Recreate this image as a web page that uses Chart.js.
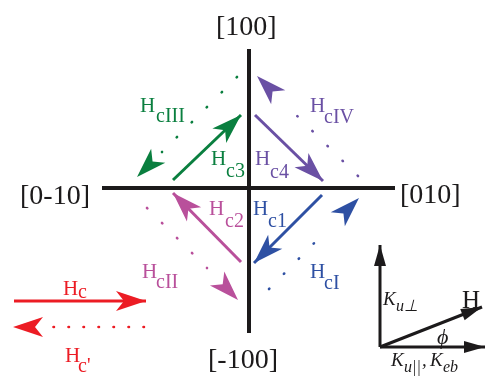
<!DOCTYPE html>
<html>
<head>
<meta charset="utf-8">
<script src="https://cdn.jsdelivr.net/npm/chart.js@4/dist/chart.umd.min.js"></script>
<style>
  html, body { margin: 0; padding: 0; background: #fff; }
  #wrap { width: 487px; height: 386px; position: relative; }
</style>
</head>
<body>
<div id="wrap"><canvas id="c"></canvas></div>
<script>
// Diagram units: origin at the crossing of the crystal axes, y pointing up.

// crystal axes (start, end)
const axisFrom = [[-147, 0], [0, 139]];
const axisTo   = [[146, 0],  [0, -145]];
const axisNames = ['[100]', '[-100]', '[0-10]', '[010]'];

// switching fields, solid arrows (tail, tip)
const solidNames = ['c3', 'c4', 'c2', 'c1', 'c'];
const solidFrom  = [[-76, 8],  [6, 73],  [-8, -74], [73, -7],  [-235, -113]];
const solidTo    = [[-8, 73],  [74, 7],  [-76, -5], [5, -75],  [-103, -113]];

// reverse fields, dotted arrows (first dot, last dot, tip)
const dottedNames = ['cIII', 'cIV', 'cII', 'cI', "c'"];
const dottedFrom  = [[-12, 111], [109, 12], [-102, -20], [20, -101], [-105, -139]];
const dottedLast  = [[-87, 36],  [34, 86],  [-42, -80],  [79, -41],  [-209, -139]];
const dottedTip   = [[-112, 11], [8, 112],  [-11, -112], [110, -10], [-236, -139]];

// anisotropy inset: common origin and the three directions
const insetOrigin = [131, -159];
const insetTips   = [[131, -57], [236, -159], [233, -119]];

// colours, one per field branch
const branchColors = ['#0a7f3f', '#6a50a4', '#b9509b', '#2e50a3', '#ec1c24'];
const ink = '#1c1a1b';

const SERIF = '"Liberation Serif", "Times New Roman", serif';
const fAxis = '28px ' + SERIF;
const fH = '21px ' + SERIF;
const fSub = '20px ' + SERIF;
const fK = 'italic 19px ' + SERIF;
const fKs = 'italic 16px ' + SERIF;

// text placements: [text, x, baseline y, font, colour]
const texts = [
  [axisNames[0], -33, 153, fAxis, ink],
  [axisNames[1], -41, -180, fAxis, ink],
  [axisNames[2], -229, -16, fAxis, ink],
  [axisNames[3], 151, -15, fAxis, ink],

  ['H', -38, 23, fH, branchColors[0]],   [solidNames[0], -23, 11, fSub, branchColors[0]],
  ['H', 6, 23, fH, branchColors[1]],     [solidNames[1], 21, 10, fSub, branchColors[1]],
  ['H', -40, -27, fH, branchColors[2]],  [solidNames[2], -24, -39, fSub, branchColors[2]],
  ['H', 4, -27, fH, branchColors[3]],    [solidNames[3], 19, -39, fSub, branchColors[3]],
  ['H', -186, -107, fH, branchColors[4]],[solidNames[4], -171, -110, fSub, branchColors[4]],

  ['H', -109, 76, fH, branchColors[0]],  [dottedNames[0], -93, 66, fSub, branchColors[0]],
  ['H', 61, 76, fH, branchColors[1]],    [dottedNames[1], 75, 65, fSub, branchColors[1]],
  ['H', -107, -90, fH, branchColors[2]], [dottedNames[2], -93, -100, fSub, branchColors[2]],
  ['H', 61, -90, fH, branchColors[3]],   [dottedNames[3], 75, -101, fSub, branchColors[3]],
  ['H', -184, -174, fH, branchColors[4]],[dottedNames[4], -171, -184, fSub, branchColors[4]],

  ['K', 134, -117, fK, ink], ['u\u22A5', 147, -123, fKs, ink],
  ['H', 213, -120, '25px ' + SERIF, ink],
  ['\u03D5', 188, -156, 'italic 22px ' + SERIF, ink],
  ['K', 142, -178, fK, ink], ['u||', 155, -184, fKs, ink],
  [',', 173, -178, fK, ink],
  ['K', 181, -178, fK, ink], ['eb', 194, -184, fKs, ink]
];

const pt = p => ({ x: p[0], y: p[1] });
const datasets = [];
const bigHead = { len: 30, half: 10, notch: 22 };

axisFrom.forEach((a, i) => {
  datasets.push({ data: [pt(a), pt(axisTo[i])], borderColor: ink, borderWidth: 4 });
});

solidFrom.forEach((a, i) => {
  datasets.push({
    data: [pt(a), pt(solidTo[i])], borderColor: branchColors[i], borderWidth: 3,
    head: bigHead
  });
});

dottedFrom.forEach((a, i) => {
  const gap = i === 4 ? 14.5 : 20.7;
  datasets.push({
    data: [pt(a), pt(dottedLast[i]), pt(dottedTip[i])],
    borderColor: branchColors[i], borderWidth: 2.6,
    borderDash: [0.5, gap], borderCapStyle: 'round',
    segment: { borderColor: c => (c.p1DataIndex === 2 ? 'rgba(0,0,0,0)' : undefined) },
    head: bigHead
  });
});

insetTips.forEach(t => {
  datasets.push({
    data: [pt(insetOrigin), pt(t)], borderColor: ink, borderWidth: 3,
    head: { len: 21, half: 6, notch: 21 }
  });
});

datasets.forEach(d => {
  d.showLine = true;
  d.pointRadius = 0;
  d.pointHoverRadius = 0;
  d.clip = false;
  d.tension = 0;
});

// barbed arrowheads at the last point of a dataset, aligned with its last segment
const arrowHeads = {
  id: 'arrowHeads',
  afterDatasetsDraw(chart) {
    const ctx = chart.ctx;
    chart.data.datasets.forEach((ds, i) => {
      if (!ds.head) return;
      const pts = chart.getDatasetMeta(i).data;
      const a = pts[pts.length - 2], b = pts[pts.length - 1];
      const ang = Math.atan2(b.y - a.y, b.x - a.x);
      const h = ds.head;
      ctx.save();
      ctx.translate(b.x, b.y);
      ctx.rotate(ang);
      ctx.beginPath();
      ctx.moveTo(0, 0);
      ctx.lineTo(-h.len, -h.half);
      ctx.lineTo(-h.notch, 0);
      ctx.lineTo(-h.len, h.half);
      ctx.closePath();
      ctx.fillStyle = ds.borderColor;
      ctx.fill();
      ctx.restore();
    });
  }
};

// labels placed in diagram units through the scales
const labelText = {
  id: 'labelText',
  afterDatasetsDraw(chart) {
    const ctx = chart.ctx, sx = chart.scales.x, sy = chart.scales.y;
    ctx.save();
    ctx.textAlign = 'left';
    ctx.textBaseline = 'alphabetic';
    texts.forEach(([t, x, y, f, col]) => {
      ctx.font = f;
      ctx.fillStyle = col;
      ctx.fillText(t, sx.getPixelForValue(x), sy.getPixelForValue(y));
    });
    ctx.restore();
  }
};

new Chart(document.getElementById('c'), {
  type: 'scatter',
  data: { datasets },
  options: {
    responsive: true,
    maintainAspectRatio: false,
    animation: false,
    events: [],
    layout: { padding: 0, autoPadding: false },
    scales: {
      x: { type: 'linear', min: -249, max: 238, display: false },
      y: { type: 'linear', min: -198, max: 188, display: false }
    },
    plugins: { legend: { display: false }, tooltip: { enabled: false } }
  },
  plugins: [arrowHeads, labelText]
});
</script>
</body>
</html>
